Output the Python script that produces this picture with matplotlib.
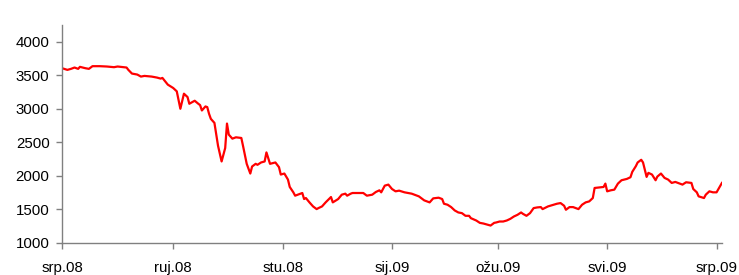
"""Recreate the srp.08 - srp.09 red line chart."""

import matplotlib

matplotlib.use("Agg")
import matplotlib.pyplot as plt
import pandas as pd

# Values
dates = [
    "2008-07-01", "2008-07-04", "2008-07-06", "2008-07-08", "2008-07-10",
    "2008-07-11", "2008-07-14", "2008-07-16", "2008-07-18", "2008-07-22",
    "2008-07-26", "2008-07-30", "2008-08-01", "2008-08-06", "2008-08-07",
    "2008-08-09", "2008-08-12", "2008-08-14", "2008-08-16", "2008-08-20",
    "2008-08-23", "2008-08-25", "2008-08-26", "2008-08-29", "2008-09-01",
    "2008-09-03", "2008-09-05", "2008-09-07", "2008-09-09", "2008-09-10",
    "2008-09-13", "2008-09-15", "2008-09-16", "2008-09-17", "2008-09-19",
    "2008-09-20", "2008-09-21", "2008-09-22", "2008-09-24", "2008-09-25",
    "2008-09-26", "2008-09-28", "2008-09-30", "2008-10-01", "2008-10-02",
    "2008-10-04", "2008-10-06", "2008-10-09", "2008-10-10", "2008-10-12",
    "2008-10-14", "2008-10-15", "2008-10-17", "2008-10-18", "2008-10-20",
    "2008-10-22", "2008-10-23", "2008-10-24", "2008-10-25", "2008-10-28",
    "2008-10-30", "2008-10-31", "2008-11-02", "2008-11-04", "2008-11-05",
    "2008-11-07", "2008-11-08", "2008-11-11", "2008-11-12", "2008-11-13",
    "2008-11-14", "2008-11-16", "2008-11-18", "2008-11-20", "2008-11-21",
    "2008-11-23", "2008-11-25", "2008-11-28", "2008-11-29", "2008-12-02",
    "2008-12-04", "2008-12-06", "2008-12-07", "2008-12-09", "2008-12-10",
    "2008-12-16", "2008-12-18", "2008-12-21", "2008-12-23", "2008-12-25",
    "2008-12-26", "2008-12-28", "2008-12-30", "2009-01-01", "2009-01-03",
    "2009-01-05", "2009-01-08", "2009-01-12", "2009-01-16", "2009-01-19",
    "2009-01-22", "2009-01-24", "2009-01-27", "2009-01-29", "2009-01-30",
    "2009-02-01", "2009-02-03", "2009-02-05", "2009-02-07", "2009-02-09",
    "2009-02-11", "2009-02-13", "2009-02-14", "2009-02-17", "2009-02-19",
    "2009-02-21", "2009-02-23", "2009-02-25", "2009-02-27", "2009-02-28",
    "2009-03-02", "2009-03-04", "2009-03-06", "2009-03-08", "2009-03-10",
    "2009-03-12", "2009-03-14", "2009-03-15", "2009-03-17", "2009-03-19",
    "2009-03-21", "2009-03-23", "2009-03-25", "2009-03-26", "2009-03-29",
    "2009-04-01", "2009-04-03", "2009-04-05", "2009-04-07", "2009-04-08",
    "2009-04-10", "2009-04-12", "2009-04-15", "2009-04-17", "2009-04-19",
    "2009-04-21", "2009-04-23", "2009-04-24", "2009-04-27", "2009-04-29",
    "2009-04-30", "2009-05-01", "2009-05-03", "2009-05-05", "2009-05-07",
    "2009-05-09", "2009-05-12", "2009-05-14", "2009-05-15", "2009-05-17",
    "2009-05-18", "2009-05-20", "2009-05-21", "2009-05-23", "2009-05-24",
    "2009-05-26", "2009-05-28", "2009-05-29", "2009-05-31", "2009-06-02",
    "2009-06-04", "2009-06-06", "2009-06-08", "2009-06-12", "2009-06-14",
    "2009-06-17", "2009-06-18", "2009-06-20", "2009-06-21", "2009-06-24",
    "2009-06-25", "2009-06-27", "2009-06-29", "2009-07-01", "2009-07-04",
]
values = [
    3605, 3580, 3595, 3615, 3595, 3625, 3605, 3595, 3635, 3635,
    3630, 3620, 3630, 3615, 3580, 3525, 3510, 3480, 3490, 3480,
    3465, 3450, 3460, 3360, 3310, 3260, 3000, 3225, 3175, 3075,
    3120, 3075, 3055, 2975, 3035, 3025, 2925, 2850, 2790, 2615,
    2450, 2215, 2415, 2780, 2615, 2555, 2575, 2565, 2440, 2180,
    2035, 2140, 2180, 2165, 2200, 2215, 2350, 2265, 2180, 2200,
    2130, 2020, 2035, 1945, 1835, 1755, 1705, 1735, 1745, 1655,
    1670, 1605, 1545, 1505, 1520, 1545, 1605, 1685, 1605, 1655,
    1720, 1735, 1705, 1735, 1745, 1745, 1705, 1720, 1760, 1785,
    1755, 1855, 1870, 1805, 1770, 1780, 1755, 1735, 1695, 1635,
    1605, 1665, 1675, 1655, 1585, 1570, 1535, 1485, 1455, 1445,
    1405, 1405, 1370, 1335, 1300, 1290, 1275, 1260, 1300, 1305,
    1320, 1320, 1335, 1360, 1395, 1420, 1455, 1435, 1405, 1445,
    1520, 1530, 1535, 1505, 1545, 1570, 1585, 1595, 1555, 1495,
    1535, 1535, 1505, 1570, 1605, 1620, 1670, 1820, 1830, 1835,
    1885, 1770, 1785, 1795, 1885, 1935, 1955, 1980, 2060, 2145,
    2200, 2240, 2200, 1985, 2045, 2020, 1935, 1990, 2035, 1970,
    1945, 1895, 1910, 1870, 1905, 1895, 1805, 1755, 1695, 1670,
    1720, 1770, 1755, 1755, 1895,
]
tick_dates = ["2008-07-01", "2008-09-01", "2008-11-01", "2009-01-01",
              "2009-03-01", "2009-05-01", "2009-07-01"]
tick_labels = ["srp.08", "ruj.08", "stu.08", "sij.09", "ožu.09", "svi.09", "srp.09"]
y_ticks = [1000, 1500, 2000, 2500, 3000, 3500, 4000]

plt.rcParams["font.family"] = ["Liberation Sans", "DejaVu Sans"]

fig = plt.figure(figsize=(7.39, 2.75), dpi=100)
ax = fig.add_axes([0.0839, 0.1164, 0.893, 0.793])

ax.plot(pd.to_datetime(dates), values, color="#ff0000", linewidth=1.6)

ax.set_xlim(pd.Timestamp("2008-07-01"), pd.Timestamp("2009-07-04"))
ax.set_ylim(1000, 4250)
ax.set_yticks(y_ticks)
ax.set_xticks(pd.to_datetime(tick_dates))
ax.set_xticklabels(tick_labels)
ax.xaxis.set_minor_locator(plt.NullLocator())

for side in ("top", "right"):
    ax.spines[side].set_visible(False)
for side in ("left", "bottom"):
    ax.spines[side].set_color("#808080")
    ax.spines[side].set_linewidth(1.0)

ax.tick_params(axis="both", direction="out", length=4, width=1.0,
               color="#808080", labelsize=10.8, labelcolor="#000000")
ax.tick_params(axis="y", pad=5)
ax.tick_params(axis="x", pad=9)

fig.savefig("out.png", dpi=100)
